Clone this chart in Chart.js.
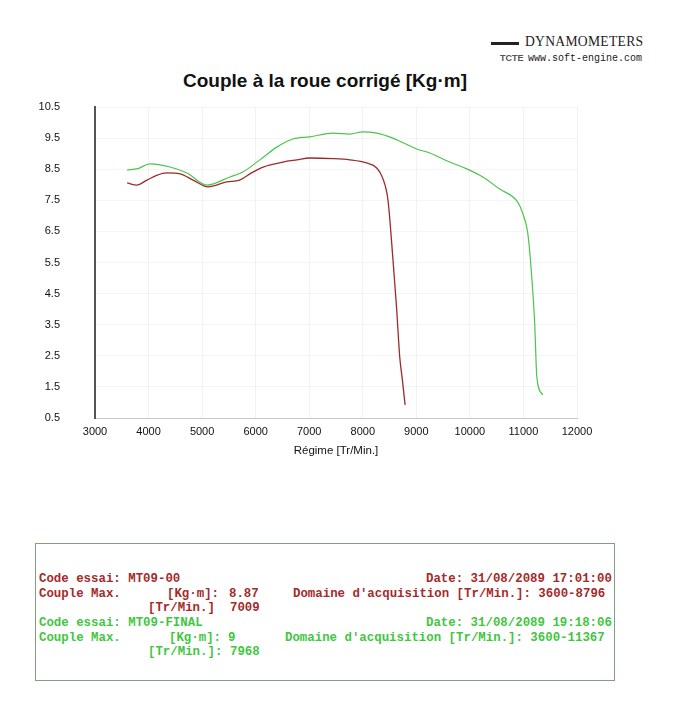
<!DOCTYPE html>
<html>
<head>
<meta charset="utf-8">
<script src="https://cdn.jsdelivr.net/npm/chart.js@4"></script>
<style>
  body { margin: 0; background: #fff; width: 679px; height: 720px; position: relative; overflow: hidden; }
  #wrap { position: absolute; left: 0; top: 0; width: 679px; height: 470px; }
  .title { position: absolute; left: 0; top: 70px; width: 650px; text-align: center; font: bold 19px "Liberation Sans", sans-serif; color: #111; }
  .logo1 { position: absolute; left: 525px; top: 34px; font: 13.6px "Liberation Serif", serif; color: #222; letter-spacing: 0.3px; }
  .logobar { position: absolute; left: 491px; top: 42px; width: 28px; height: 3px; background: #222; }
  .logo2 { position: absolute; left: 528px; top: 53px; font: 10px "Liberation Mono", monospace; color: #222; }
  .logo3 { position: absolute; left: 500px; top: 53px; font: bold 9px "Liberation Sans", sans-serif; color: #555; }
  #info { position: absolute; left: 35px; top: 543px; width: 578px; height: 136px; border: 1px solid #7f9f7f; }
  .t { position: absolute; font: bold 12.4px "Liberation Mono", monospace; white-space: pre; line-height: 14px; }
  .r { color: #a52a2a; }
  .g { color: #42c642; }
</style>
</head>
<body>
<div class="logobar"></div>
<div class="logo1">DYNAMOMETERS</div>
<div class="logo3">TCTE</div>
<div class="logo2">www.soft-engine.com</div>
<div class="title">Couple à la roue corrigé [Kg·m]</div>
<div id="wrap"><canvas id="torqueChart" width="679" height="470"></canvas></div>
<div id="info"></div>
<script>
// Torque curves
const redRpm = [3600, 3780, 3970, 4150, 4340, 4590, 4830, 5110, 5460, 5700, 5920, 6140, 6510, 6770, 7010, 7440, 7757, 8070, 8260, 8370, 8470, 8560, 8630, 8690, 8740, 8790];
const redTorque = [8.06, 7.99, 8.15, 8.30, 8.38, 8.35, 8.15, 7.93, 8.09, 8.15, 8.38, 8.57, 8.73, 8.80, 8.86, 8.84, 8.80, 8.70, 8.54, 8.22, 7.51, 5.68, 4.07, 2.46, 1.72, 0.92];

const greenRpm = [3600, 3800, 4026, 4400, 4716, 5090, 5519, 5761, 6078, 6395, 6694, 7011, 7440, 7757, 8000, 8260, 8560, 9007, 9250, 9623, 9940, 10240, 10556, 10890, 10985, 11080, 11150, 11210, 11250, 11360];
const greenTorque = [8.47, 8.52, 8.67, 8.57, 8.38, 7.99, 8.25, 8.41, 8.80, 9.21, 9.47, 9.54, 9.66, 9.63, 9.70, 9.66, 9.50, 9.15, 9.02, 8.73, 8.51, 8.25, 7.86, 7.45, 7.09, 6.45, 5.16, 3.55, 1.82, 1.24];

const xTicks = [3000, 4000, 5000, 6000, 7000, 8000, 9000, 10000, 11000, 12000];
const yTicks = [0.5, 1.5, 2.5, 3.5, 4.5, 5.5, 6.5, 7.5, 8.5, 9.5, 10.5];

const RED = '#9e2a2a';
const GREEN = '#4cc54c';

function toPoints(xs, ys) {
    return xs.map((x, i) => ({ x: x, y: ys[i] }));
}

const ctx = document.getElementById('torqueChart');
const torqueChart = new Chart(ctx, {
    type: 'line',
    data: {
        datasets: [{
            label: 'MT09-00',
            data: toPoints(redRpm, redTorque),
            borderColor: RED,
            borderWidth: 1.3,
            pointRadius: 0,
            cubicInterpolationMode: 'monotone'
        }, {
            label: 'MT09-FINAL',
            data: toPoints(greenRpm, greenTorque),
            borderColor: GREEN,
            borderWidth: 1.2,
            pointRadius: 0,
            cubicInterpolationMode: 'monotone'
        }]
    },
    options: {
        responsive: false,
        animation: false,
        layout: { padding: { left: 0, right: 102, top: 107, bottom: 0 } },
        plugins: {
            legend: { display: false },
            tooltip: { enabled: false },
            title: { display: false }
        },
        scales: {
            x: {
                type: 'linear',
                min: 3000,
                max: 12000,
                afterBuildTicks: s => { s.ticks = xTicks.map(v => ({ value: v })); },
                afterFit: s => { s.height = 52; },
                ticks: {
                    color: '#111',
                    font: { family: 'Liberation Sans', size: 11 },
                    padding: 7,
                    maxRotation: 0,
                    callback: v => String(v)
                },
                grid: { color: 'rgba(0,0,0,0.05)', drawTicks: false },
                border: { color: '#c8c8c8', width: 1 },
                title: {
                    display: true,
                    text: 'Régime [Tr/Min.]',
                    color: '#111',
                    font: { family: 'Liberation Sans', size: 11.5 },
                    padding: { top: 0, bottom: 12 }
                }
            },
            y: {
                min: 0.5,
                max: 10.5,
                afterBuildTicks: s => { s.ticks = yTicks.map(v => ({ value: v })); },
                afterFit: s => { s.width = 95; },
                ticks: {
                    color: '#111',
                    font: { family: 'Liberation Sans', size: 11 },
                    padding: 35,
                    callback: v => v.toFixed(1)
                },
                grid: { color: 'rgba(0,0,0,0.04)', drawTicks: false },
                border: { color: '#555', width: 2 }
            }
        }
    }
});

// Test summary box
const infoLines = [
    { cls: 'r', x: 3,   y: 28, text: 'Code essai: MT09-00' },
    { cls: 'r', x: 390, y: 28, text: 'Date: 31/08/2089 17:01:00' },
    { cls: 'r', x: 3,   y: 43, text: 'Couple Max.' },
    { cls: 'r', x: 131, y: 43, text: '[Kg·m]:' },
    { cls: 'r', x: 193, y: 43, text: '8.87' },
    { cls: 'r', x: 257, y: 43, text: "Domaine d'acquisition [Tr/Min.]: 3600-8796" },
    { cls: 'r', x: 112, y: 57, text: '[Tr/Min.]' },
    { cls: 'r', x: 194, y: 57, text: '7009' },
    { cls: 'g', x: 3,   y: 72, text: 'Code essai: MT09-FINAL' },
    { cls: 'g', x: 390, y: 72, text: 'Date: 31/08/2089 19:18:06' },
    { cls: 'g', x: 3,   y: 87, text: 'Couple Max.' },
    { cls: 'g', x: 133, y: 87, text: '[Kg·m]:' },
    { cls: 'g', x: 192, y: 87, text: '9' },
    { cls: 'g', x: 249, y: 87, text: "Domaine d'acquisition [Tr/Min.]: 3600-11367" },
    { cls: 'g', x: 112, y: 101, text: '[Tr/Min.]:' },
    { cls: 'g', x: 194, y: 101, text: '7968' }
];
const info = document.getElementById('info');
infoLines.forEach(l => {
    const d = document.createElement('div');
    d.className = 't ' + l.cls;
    d.style.left = l.x + 'px';
    d.style.top = l.y + 'px';
    d.textContent = l.text;
    info.appendChild(d);
});
</script>
</body>
</html>
